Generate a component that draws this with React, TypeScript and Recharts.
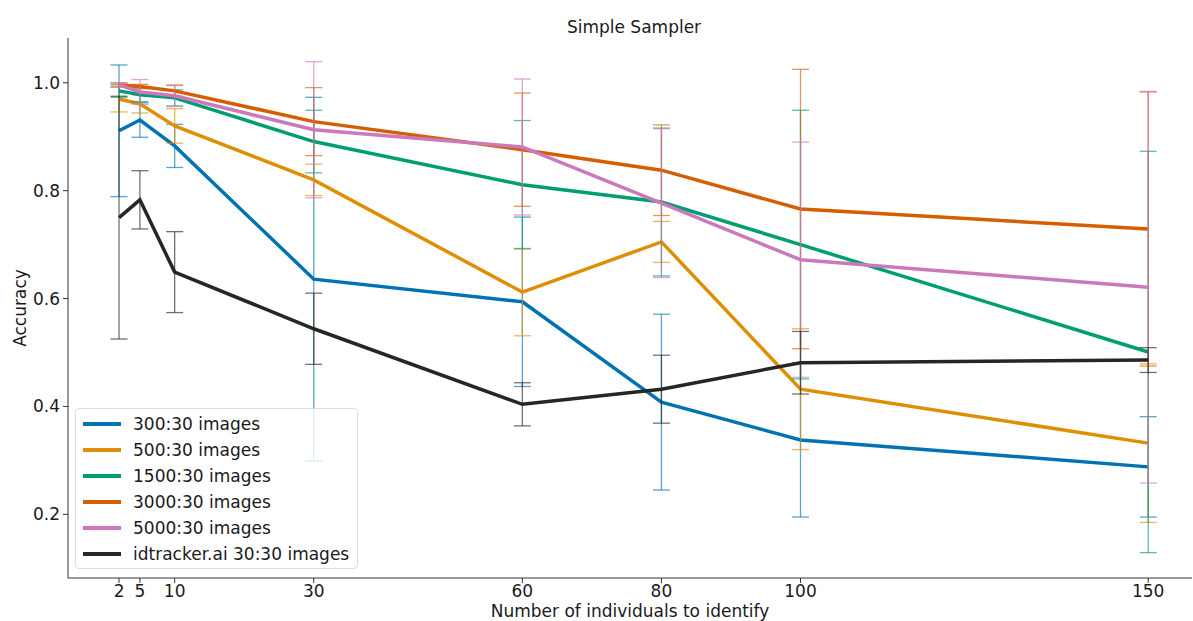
import { ErrorBar, Line, LineChart, XAxis, YAxis } from "recharts";

const individuals = [2, 5, 10, 30, 60, 80, 100, 150];

const acc300 = [0.911, 0.931, 0.883, 0.636, 0.594, 0.408, 0.338, 0.288];
const err300 = [0.122, 0.032, 0.04, 0.337, 0.157, 0.163, 0.143, 0.093];
const acc500 = [0.97, 0.961, 0.92, 0.82, 0.612, 0.705, 0.432, 0.332];
const err500 = [0.024, 0.017, 0.032, 0.029, 0.081, 0.038, 0.112, 0.147];
const acc1500 = [0.985, 0.978, 0.972, 0.891, 0.811, 0.779, 0.7, 0.501];
const err1500 = [0.012, 0.013, 0.015, 0.058, 0.119, 0.137, 0.249, 0.372];
const acc3000 = [0.996, 0.993, 0.985, 0.928, 0.876, 0.838, 0.766, 0.729];
const err3000 = [0.004, 0.004, 0.01, 0.063, 0.105, 0.084, 0.259, 0.254];
const acc5000 = [0.996, 0.983, 0.976, 0.913, 0.881, 0.777, 0.672, 0.621];
const err5000 = [0.004, 0.023, 0.02, 0.126, 0.126, 0.138, 0.218, 0.363];
const accIdtracker = [0.75, 0.783, 0.649, 0.544, 0.404, 0.432, 0.481, 0.486];
const errIdtracker = [0.225, 0.054, 0.075, 0.066, 0.04, 0.063, 0.058, 0.023];

const yTicks = [0.2, 0.4, 0.6, 0.8, 1.0];

type Series = { key: string; name: string; color: string; acc: number[]; err: number[] };

const series: Series[] = [
  { key: "s300", name: "300:30 images", color: "#0173b2", acc: acc300, err: err300 },
  { key: "s500", name: "500:30 images", color: "#de8f05", acc: acc500, err: err500 },
  { key: "s1500", name: "1500:30 images", color: "#029e73", acc: acc1500, err: err1500 },
  { key: "s3000", name: "3000:30 images", color: "#d55e00", acc: acc3000, err: err3000 },
  { key: "s5000", name: "5000:30 images", color: "#cc78bc", acc: acc5000, err: err5000 },
  { key: "sId", name: "idtracker.ai 30:30 images", color: "#262626", acc: accIdtracker, err: errIdtracker },
];

const data = individuals.map((n, i) => {
  const row: Record<string, number> = { n };
  series.forEach((s) => {
    row[s.key] = s.acc[i];
    row[s.key + "Err"] = s.err[i];
  });
  return row;
});

const FONT = "DejaVu Sans, sans-serif";
const AXIS = "#333333";
const TEXT = "#1a1a1a";

// legend drawn as an overlay so it doesn't steal space from the plot
function LegendBox() {
  return (
    <div
      style={{
        position: "absolute",
        left: 75,
        top: 408,
        width: 283,
        height: 161,
        boxSizing: "border-box",
        border: "1px solid #dcdcdc",
        borderRadius: 4,
        background: "rgba(255,255,255,0.8)",
        padding: "2px 0 0 7px",
        fontFamily: FONT,
        fontSize: 17,
        color: TEXT,
      }}
    >
      {series.map((s) => (
        <div key={s.key} style={{ display: "flex", alignItems: "center", height: 26 }}>
          <span style={{ display: "inline-block", width: 38, height: 3.5, background: s.color, marginRight: 12 }} />
          <span style={{ whiteSpace: "nowrap" }}>{s.name}</span>
        </div>
      ))}
    </div>
  );
}

export default function App() {
  return (
    <div style={{ position: "absolute", left: 0, top: 0, width: 1193, height: 621, background: "#fff" }}>
      <LineChart
        width={1193}
        height={621}
        data={data}
        margin={{ top: 38, right: 1, left: 0, bottom: 0 }}
        style={{ fontFamily: FONT }}
      >
        <text x={634} y={33} textAnchor="middle" fontSize={17} fill={TEXT} fontFamily={FONT}>
          Simple Sampler
        </text>
        <XAxis
          dataKey="n"
          type="number"
          height={43}
          domain={[-5.34, 156.3]}
          allowDataOverflow
          ticks={individuals}
          interval={0}
          stroke={AXIS}
          tickSize={5}
          tick={{ fontSize: 17, fill: TEXT, fontFamily: FONT }}
          tickMargin={2}
          label={{ value: "Number of individuals to identify", position: "insideBottom", offset: 4, fontSize: 17, fill: TEXT, fontFamily: FONT }}
        />
        <YAxis
          type="number"
          width={68}
          domain={[0.082, 1.083]}
          allowDataOverflow
          ticks={yTicks}
          tickFormatter={(v: number) => v.toFixed(1)}
          stroke={AXIS}
          tickSize={5}
          tick={{ fontSize: 17, fill: TEXT, fontFamily: FONT }}
          tickMargin={3}
          label={{ value: "Accuracy", angle: -90, position: "insideLeft", offset: 20, fontSize: 17, fill: TEXT, fontFamily: FONT, style: { textAnchor: "middle" } }}
        />
        {series.map((s) => (
          <Line
            key={s.key}
            dataKey={s.key}
            name={s.name}
            stroke={s.color}
            strokeWidth={3.5}
            dot={false}
            activeDot={false}
            type="linear"
            isAnimationActive={false}
          >
            <ErrorBar
              dataKey={s.key + "Err"}
              direction="y"
              width={8.5}
              stroke={s.color}
              strokeOpacity={0.65}
              strokeWidth={1.3}
              isAnimationActive={false}
            />
          </Line>
        ))}
      </LineChart>
      <LegendBox />
    </div>
  );
}
